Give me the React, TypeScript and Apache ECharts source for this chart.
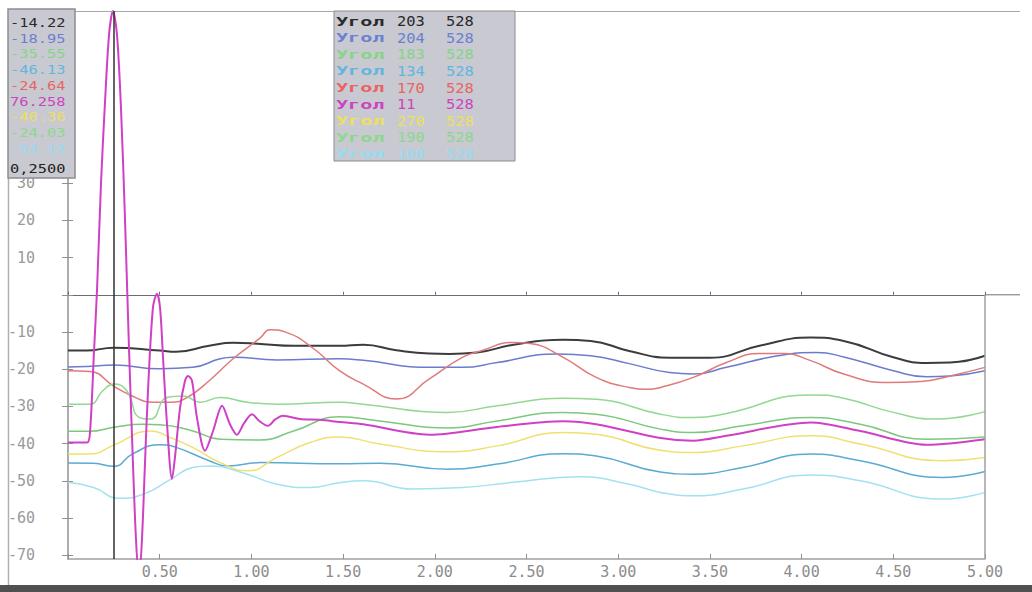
import React, { useEffect, useRef } from 'react';
import * as echarts from 'echarts';

// ---- data: [time, value] ----
const blackLine = [[0,-15.0],[0.1,-15.0],[0.25,-14.2],[0.5,-15.0],[0.59,-15.3],[0.77,-13.7],[0.9,-12.9],[1.05,-13.2],[1.23,-13.7],[1.48,-13.7],[1.61,-13.4],[1.79,-14.9],[1.97,-15.8],[2.08,-15.9],[2.23,-15.5],[2.43,-13.4],[2.7,-12.1],[2.85,-12.4],[3.06,-15.1],[3.28,-16.9],[3.5,-16.9],[3.77,-13.7],[4.05,-11.5],[4.23,-12.4],[4.5,-16.8],[4.68,-18.3],[4.81,-18.2],[5.0,-16.4]];
const blueLine = [[0,-19.4],[0.1,-19.3],[0.25,-18.9],[0.5,-19.9],[0.68,-19.5],[0.83,-17.2],[0.9,-16.8],[1.14,-17.5],[1.48,-17.2],[1.61,-17.6],[1.97,-19.5],[2.15,-19.5],[2.34,-18.2],[2.67,-15.9],[2.85,-16.4],[3.06,-18.5],[3.28,-20.9],[3.41,-21.3],[3.59,-19.5],[3.87,-16.4],[4.08,-15.5],[4.23,-16.7],[4.5,-20.4],[4.68,-22.0],[4.81,-21.8],[5.0,-20.4]];
const greenLowLine = [[0,-36.7],[0.12,-36.7],[0.25,-35.6],[0.41,-34.8],[0.5,-34.9],[0.68,-36.6],[0.83,-38.8],[1.05,-39.0],[1.23,-36.6],[1.48,-32.8],[1.7,-33.9],[2.07,-35.8],[2.34,-33.9],[2.7,-31.6],[2.88,-32.1],[3.23,-36.1],[3.41,-37.0],[3.68,-35.2],[4.05,-33.0],[4.32,-34.8],[4.68,-38.8],[5.0,-38.2]];
const cyanLine = [[0,-45.2],[0.14,-45.3],[0.25,-46.1],[0.35,-42.8],[0.5,-40.3],[0.59,-41.0],[0.77,-44.6],[0.87,-46.0],[1.05,-45.1],[1.48,-45.4],[1.7,-45.3],[2.07,-46.9],[2.34,-45.5],[2.7,-42.7],[2.88,-43.3],[3.23,-47.6],[3.41,-48.2],[3.68,-46.4],[4.05,-42.8],[4.32,-44.6],[4.77,-49.1],[5.0,-47.5]];
const redLine = [[0,-20.4],[0.12,-20.6],[0.25,-24.6],[0.35,-27.2],[0.46,-28.9],[0.56,-28.9],[0.65,-27.6],[0.77,-23.1],[0.9,-17.2],[1.05,-11.5],[1.1,-9.4],[1.19,-10.1],[1.34,-14.5],[1.48,-20.4],[1.61,-24.0],[1.79,-28.0],[1.97,-22.6],[2.15,-16.8],[2.25,-15.1],[2.43,-12.8],[2.52,-13.1],[2.7,-16.8],[2.88,-22.2],[3.06,-24.9],[3.16,-25.4],[3.23,-24.9],[3.41,-22.2],[3.59,-18.2],[3.77,-15.8],[3.9,-15.8],[4.05,-17.7],[4.23,-21.3],[4.47,-23.6],[4.65,-23.3],[4.81,-21.8],[5.0,-19.5]];
const magentaLine = [[0,-39.7],[0.104,-39.7],[0.12,-37],[0.142,-15],[0.158,1],[0.18,30],[0.202,52],[0.224,70],[0.245,76.26],[0.267,70],[0.289,50],[0.311,20],[0.333,-15],[0.354,-45],[0.371,-66],[0.387,-76],[0.403,-66],[0.42,-45],[0.436,-26],[0.463,-3.5],[0.485,0.3],[0.502,-3.5],[0.518,-16.8],[0.54,-34.8],[0.567,-49.5],[0.583,-43.8],[0.611,-30.3],[0.638,-23.1],[0.654,-21.8],[0.676,-23.1],[0.703,-33],[0.747,-41.9],[0.791,-36.6],[0.84,-29.8],[0.883,-34.8],[0.921,-37.6],[0.96,-34.5],[1.003,-32.1],[1.045,-34],[1.09,-35.2],[1.13,-33.5],[1.172,-32.5],[1.265,-33.4],[1.374,-33.6],[1.483,-34.2],[1.61,-34.8],[1.97,-37.6],[2.34,-35.5],[2.7,-34.0],[2.88,-34.8],[3.23,-38.5],[3.41,-39.2],[3.59,-37.9],[4.05,-34.3],[4.32,-36.6],[4.68,-40.3],[5.0,-38.8]];
const yellowLine = [[0,-42.8],[0.12,-42.8],[0.25,-40.4],[0.45,-36.6],[0.56,-38.4],[0.68,-41.0],[0.83,-45.1],[0.98,-47.3],[1.14,-43.7],[1.32,-39.7],[1.48,-38.2],[1.7,-40.1],[2.07,-42.2],[2.34,-40.6],[2.7,-37.0],[2.88,-37.5],[3.23,-41.8],[3.41,-42.4],[3.68,-40.6],[4.05,-37.9],[4.32,-40.1],[4.77,-44.6],[5.0,-43.7]];
const greenHighLine = [[0,-29.4],[0.12,-29.4],[0.19,-25.8],[0.25,-24.0],[0.32,-25.8],[0.39,-33.0],[0.45,-33.4],[0.54,-27.6],[0.63,-27.2],[0.72,-28.9],[0.83,-27.6],[0.98,-28.9],[1.14,-29.4],[1.48,-28.9],[1.61,-29.4],[2.07,-31.6],[2.34,-29.8],[2.7,-27.8],[2.88,-28.1],[3.23,-32.1],[3.41,-33.0],[3.59,-31.9],[4.05,-26.9],[4.23,-27.8],[4.5,-31.6],[4.74,-33.4],[5.0,-31.4]];
const lightCyanLine = [[0,-50.4],[0.14,-51.8],[0.28,-54.7],[0.41,-53.6],[0.56,-49.6],[0.68,-46.4],[0.77,-46.0],[0.95,-47.8],[1.14,-50.9],[1.32,-51.8],[1.48,-50.5],[1.61,-50.0],[1.88,-52.2],[2.15,-51.8],[2.43,-50.4],[2.79,-48.9],[3.06,-50.9],[3.23,-53.1],[3.41,-54.0],[3.68,-52.2],[4.05,-48.4],[4.32,-50.0],[4.77,-54.9],[5.0,-53.1]];

const cursorTime = 0.25;
const cursorLabel = '0,2500';
const cursorValues = ['-14.22', '-18.95', '-35.55', '-46.13', '-24.64', '76.258', '-40.36', '-24.03', '-54.12'];
const angleWord = 'Угол';
const angleValues = ['203', '204', '183', '134', '170', '11', '270', '190', '100'];
const countValues = ['528', '528', '528', '528', '528', '528', '528', '528', '528'];
const yTickValues = [-70, -60, -50, -40, -30, -20, -10, 0, 10, 20, 30, 40, 50, 60, 70];
const yLabelValues = [-70, -60, -50, -40, -30, -20, -10, 10, 20, 30];

const seriesList = [
  { data: blackLine, color: '#3c3c3c', text: '#2a2a2a', width: 2 },
  { data: blueLine, color: '#6a7ccc', text: '#6a80d0', width: 1.5 },
  { data: greenLowLine, color: '#7cc87c', text: '#86d486', width: 1.5 },
  { data: cyanLine, color: '#5aaad2', text: '#62b6de', width: 1.5 },
  { data: redLine, color: '#e07a7a', text: '#e86464', width: 1.5 },
  { data: magentaLine, color: '#d040c4', text: '#cc44c0', width: 2 },
  { data: yellowLine, color: '#f0e070', text: '#ece060', width: 1.5 },
  { data: greenHighLine, color: '#92d892', text: '#8cd88c', width: 1.5 },
  { data: lightCyanLine, color: '#a2e2f0', text: '#94dcf0', width: 1.5 },
];

export default function App() {
  const ref = useRef<HTMLDivElement>(null);
  useEffect(() => {
    document.body.style.margin = '0';
    const chart = echarts.init(ref.current as HTMLDivElement, null, { renderer: 'svg' });
    const mono = 'DejaVu Sans Mono';
    const graphic: any[] = [];
    // frame decorations
    graphic.push({ type: 'line', shape: { x1: 68, y1: 11.5, x2: 1020, y2: 11.5 }, style: { stroke: '#a8a8a8', lineWidth: 1 }, z: 5 });
    graphic.push({ type: 'line', shape: { x1: 985, y1: 294.5, x2: 985, y2: 559 }, style: { stroke: '#a0a0a0', lineWidth: 1.5 }, z: 5 });
    graphic.push({ type: 'line', shape: { x1: 985, y1: 294.8, x2: 1020, y2: 294.8 }, style: { stroke: '#707080', lineWidth: 1 }, z: 5 });
    graphic.push({ type: 'line', shape: { x1: 8.5, y1: 178, x2: 8.5, y2: 585 }, style: { stroke: '#b0b0b0', lineWidth: 1.5 }, z: 5 });
    graphic.push({ type: 'rect', shape: { x: 0, y: 585, width: 1032, height: 7 }, style: { fill: '#505050' }, z: 5 });
    // left value box
    graphic.push({ type: 'rect', shape: { x: 8, y: 9, width: 67, height: 169 }, style: { fill: '#c9c9d1', stroke: '#8c8c92', lineWidth: 1.5 }, z: 100 });
    cursorValues.forEach((v, i) => {
      graphic.push({ type: 'text', x: 10, y: 22.5 + 15.7 * i, scaleX: 1.18, style: { text: v, fill: seriesList[i].text, fontSize: 13, fontFamily: mono, verticalAlign: 'middle' }, z: 101 });
    });
    graphic.push({ type: 'text', x: 10, y: 168, scaleX: 1.18, style: { text: cursorLabel, fill: '#202020', fontSize: 13, fontFamily: mono, verticalAlign: 'middle' }, z: 101 });
    // angle box
    graphic.push({ type: 'rect', shape: { x: 334, y: 11, width: 181, height: 150 }, style: { fill: '#c9c9d1', stroke: '#8c8c92', lineWidth: 1 }, z: 100 });
    angleValues.forEach((v, i) => {
      const y = 21 + 16.6 * i;
      const c = seriesList[i].text;
      graphic.push({ type: 'text', x: 336, y, scaleX: 1.55, style: { text: angleWord, fill: c, fontSize: 13, fontWeight: 'bold', fontFamily: mono, verticalAlign: 'middle' }, z: 101 });
      graphic.push({ type: 'text', x: 397, y, scaleX: 1.1, style: { text: v, fill: c, fontSize: 14, fontFamily: mono, verticalAlign: 'middle' }, z: 101 });
      graphic.push({ type: 'text', x: 446, y, scaleX: 1.1, style: { text: countValues[i], fill: c, fontSize: 14, fontFamily: mono, verticalAlign: 'middle' }, z: 101 });
    });

    const series: any[] = seriesList.map((s, i) => ({
      type: 'line',
      data: s.data,
      showSymbol: false,
      smooth: i === 5 ? 0.3 : 0.5,
      lineStyle: { color: s.color, width: s.width },
      itemStyle: { color: s.color },
      z: i === 5 ? 4 : 3,
      markLine: i === 0 ? {
        silent: true,
        symbol: ['none', 'none'],
        label: { show: false },
        lineStyle: { color: '#303030', width: 1.5, type: 'solid' },
        data: [{ xAxis: cursorTime }],
      } : undefined,
    }));

    chart.setOption({
      animation: false,
      backgroundColor: '#ffffff',
      grid: { left: 68, top: 11, width: 917, height: 548, containLabel: false },
      xAxis: [
        {
          type: 'value', min: 0, max: 5, interval: 0.5, position: 'bottom',
          axisLine: { onZero: false, lineStyle: { color: '#a0a0a0', width: 1.5 } },
          axisTick: { show: true, inside: true, length: 5, lineStyle: { color: '#909090' } },
          axisLabel: { color: '#8c8c8c', fontSize: 15, fontFamily: mono, margin: 5, formatter: (v: number) => (v === 0 ? '' : v.toFixed(2)) },
          splitLine: { show: false },
        },
        {
          type: 'value', min: 0, max: 5, interval: 0.5, position: 'top',
          axisLine: { onZero: true, onZeroAxisIndex: 0, lineStyle: { color: '#6a6a7a', width: 1 } },
          axisTick: { show: true, length: 3, lineStyle: { color: '#6a6a7a' } },
          axisLabel: { show: false },
          splitLine: { show: false },
        },
      ],
      yAxis: [
        {
          type: 'value', min: -71, max: 76.26, position: 'left',
          axisLine: { show: true, lineStyle: { color: '#909090', width: 1.5 } },
          axisTick: { show: true, length: 6, customValues: yTickValues, lineStyle: { color: '#909090' } },
          axisLabel: { color: '#9a9a9a', fontSize: 15, fontFamily: mono, margin: 33, customValues: yLabelValues, formatter: (v: number) => String(v) },
          splitLine: { show: false },
        },
        {
          type: 'value', min: -71, max: 76.26, position: 'left',
          axisLine: { show: false },
          axisTick: { show: true, inside: true, length: 5, customValues: yTickValues, lineStyle: { color: '#909090' } },
          axisLabel: { show: false },
          splitLine: { show: false },
        },
      ],
      series,
      graphic,
    });
    return () => chart.dispose();
  }, []);
  return <div ref={ref} style={{ position: 'absolute', left: 0, top: 0, width: 1032, height: 592 }} />;
}
